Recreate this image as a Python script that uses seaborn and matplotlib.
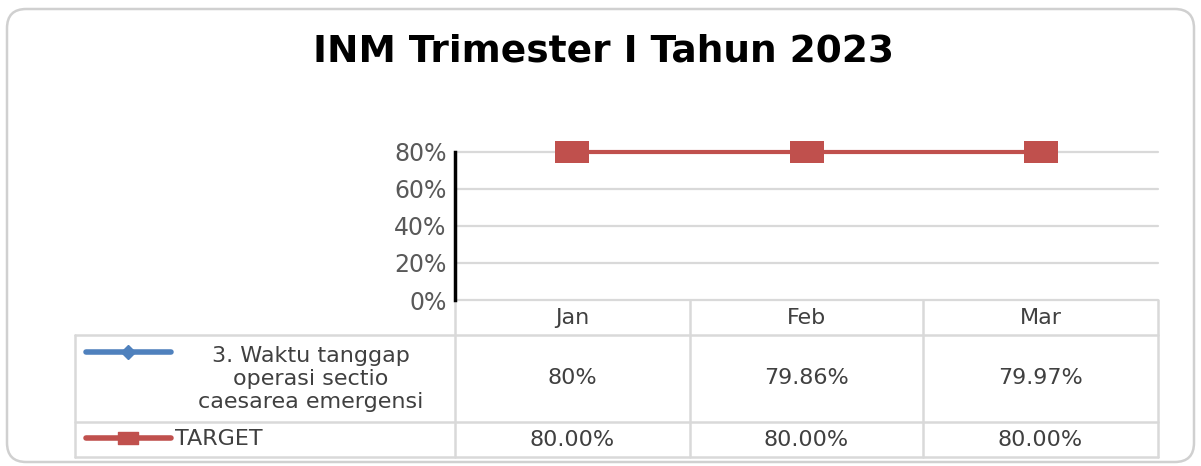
import numpy as np
import pandas as pd
import matplotlib
matplotlib.use("Agg")
import matplotlib.pyplot as plt
from matplotlib.patches import FancyBboxPatch
from matplotlib.lines import Line2D
from matplotlib.path import Path
from matplotlib.markers import MarkerStyle
from matplotlib.ticker import PercentFormatter
import seaborn as sns

# data
months = ["Jan", "Feb", "Mar"]
series_name = "3. Waktu tanggap\noperasi sectio\ncaesarea emergensi"
series_vals = [0.80, 0.7986, 0.7997]
series_text = ["80%", "79.86%", "79.97%"]
target_name = "TARGET"
target_vals = [0.80, 0.80, 0.80]
yticks = [0, 0.2, 0.4, 0.6, 0.8]

blue = "#4F81BD"
red = "#C0504D"
grid = "#D9D9D9"
txt = "#404040"

W, H = 1201, 466
sns.set_theme(style="white")
plt.rcParams["font.family"] = ["DejaVu Sans"]
fig = plt.figure(figsize=(W / 100, H / 100), dpi=100)


def fx(x):
    return x / W


def fy(y):
    return 1 - y / H


# outer rounded frame
frame = FancyBboxPatch((fx(7), fy(462)), fx(1194) - fx(7), fy(9) - fy(462),
                       boxstyle="round,pad=0,rounding_size=0.016",
                       transform=fig.transFigure, fc="white", ec="#D0D0D0",
                       lw=1.8, mutation_aspect=W / H, zorder=-5)
fig.patches.append(frame)

fig.text(fx(603), fy(51), "INM Trimester I Tahun 2023", ha="center", va="center",
         fontsize=27, fontweight="bold", color="black")

# plot area
x0, x1, ytop, ybot = 455, 1158, 152, 300
ax = fig.add_axes([fx(x0), fy(ybot), fx(x1) - fx(x0), fy(ytop) - fy(ybot)])
ax.set_facecolor("none")
ax.set_zorder(2)

df = pd.DataFrame({"month": np.arange(len(months)), "series": series_vals, "target": target_vals})
rect = MarkerStyle(Path([(-1.5, -1), (1.5, -1), (1.5, 1), (-1.5, 1), (-1.5, -1)], closed=True))

sns.lineplot(data=df, x="month", y="series", ax=ax, color=blue, lw=2.5,
             marker="D", markersize=6, markeredgewidth=0, zorder=3, clip_on=False)
sns.lineplot(data=df, x="month", y="target", ax=ax, color=red, lw=3,
             marker=rect, markersize=24, markeredgewidth=0, zorder=4, clip_on=False)

ax.set_xlim(-0.5, len(months) - 0.5)
ax.set_ylim(0, 0.8)
ax.set_yticks(yticks)
ax.yaxis.set_major_formatter(PercentFormatter(1.0, decimals=0))
ax.tick_params(axis="y", length=0, pad=6, labelsize=17, labelcolor="#595959")
ax.set_xticks([])
ax.set_xlabel("")
ax.set_ylabel("")
for yv in yticks:
    ax.axhline(yv, color=grid, lw=1.6, zorder=1, clip_on=False)
for s in ["top", "right", "bottom"]:
    ax.spines[s].set_visible(False)
ax.spines["left"].set_color("black")
ax.spines["left"].set_linewidth(2.5)
ax.spines["left"].set_zorder(5)

# data table below
cols = [455, 690, 923, 1158]
r_head, r1, r2, r_bot = 300, 335, 422, 457
left = 75


def hline(xa, xb, y):
    fig.add_artist(Line2D([fx(xa), fx(xb)], [fy(y), fy(y)], color=grid, lw=1.8))


def vline(x, ya, yb):
    fig.add_artist(Line2D([fx(x), fx(x)], [fy(ya), fy(yb)], color=grid, lw=1.8))


hline(left, cols[-1], r1)
hline(left, cols[-1], r2)
hline(left, cols[-1], r_bot)
vline(left, r1, r_bot)
for c in cols:
    vline(c, r_head, r_bot)

fs = 16
for i, m in enumerate(months):
    cx = (cols[i] + cols[i + 1]) / 2
    fig.text(fx(cx), fy((r_head + r1) / 2 + 1), m, ha="center", va="center", fontsize=fs, color=txt)
    fig.text(fx(cx), fy((r1 + r2) / 2), series_text[i], ha="center", va="center", fontsize=fs, color=txt)
    fig.text(fx(cx), fy((r2 + r_bot) / 2 + 1), f"{target_vals[i] * 100:.2f}%", ha="center",
             va="center", fontsize=fs, color=txt)

# legend keys in the table
fig.add_artist(Line2D([fx(86), fx(171)], [fy(352), fy(352)], color=blue, lw=4,
                      solid_capstyle="round"))
fig.add_artist(Line2D([fx(128)], [fy(352)], color=blue, marker="D", markersize=7, lw=0))
fig.text(fx(311), fy(379), series_name, ha="center", va="center", fontsize=fs, color=txt,
         linespacing=1.2)
fig.add_artist(Line2D([fx(86), fx(171)], [fy(438), fy(438)], color=red, lw=4,
                      solid_capstyle="round"))
fig.add_artist(Line2D([fx(128)], [fy(438)], color=red, marker=rect, markersize=14, lw=0))
fig.text(fx(175), fy(439), target_name, ha="left", va="center", fontsize=fs, color=txt)

fig.savefig("out.png", dpi=100)
